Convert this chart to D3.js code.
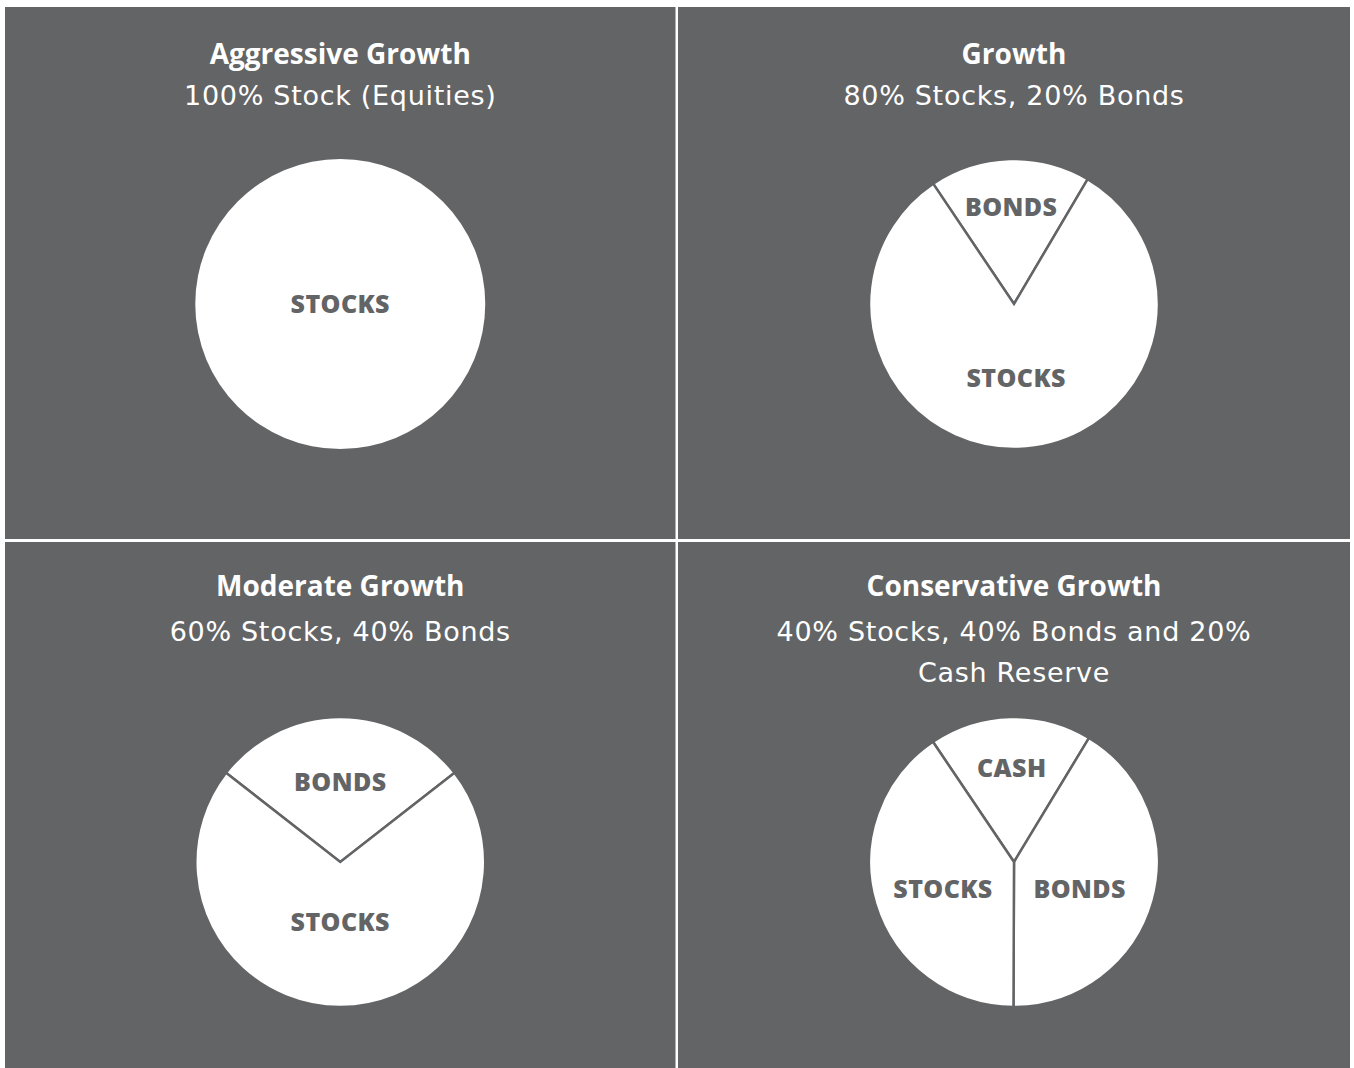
<!DOCTYPE html>
<html>
<head>
<meta charset="utf-8">
<script src="https://cdn.jsdelivr.net/npm/d3@7"></script>
<style>
  html, body { margin: 0; padding: 0; background: #ffffff; }
  svg { display: block; }
</style>
</head>
<body>
<div id="chart"></div>
<script>
// titles and subtitles of the four portfolios
const titles = ["Aggressive Growth", "Growth", "Moderate Growth", "Conservative Growth"];
const subtitles = [
  ["100% Stock (Equities)"],
  ["80% Stocks, 20% Bonds"],
  ["60% Stocks, 40% Bonds"],
  ["40% Stocks, 40% Bonds and 20%", "Cash Reserve"]
];

// slices as drawn in the picture (share of the circle, %), clockwise from the first one
const aggressiveLabels = ["STOCKS"];
const aggressiveShares = [100];
const growthLabels = ["BONDS", "STOCKS"];
const growthShares = [17.9, 82.1];
const moderateLabels = ["BONDS", "STOCKS"];
const moderateShares = [28.9, 71.1];
const conservativeLabels = ["CASH", "BONDS", "STOCKS"];
const conservativeShares = [18.1, 41.4, 40.5];

const W = 1354, H = 1068;
const bg = "#636466";

// panel boxes
const panels = [
  { x: 5, y: 7, w: 670.5, h: 532, titleY: 57, subY: 98, pieY: 297 },
  { x: 678, y: 7, w: 672, h: 532, titleY: 57, subY: 98, pieY: 297 },
  { x: 5, y: 542, w: 670.5, h: 526, titleY: 54, subY: 99, pieY: 320 },
  { x: 678, y: 542, w: 672, h: 526, titleY: 54, subY: 99, pieY: 320 }
];

// rotation of first slice (degrees), label radius and angle nudge (degrees) per slice
const startDeg = [0, -33.9, -52, -34];
const labelR = [[0], [97, 74], [80, 60], [94, 71, 76]];
const labelNudge = [[0], [0, 0], [0, 0], [0, 6.5, -4]];

const pieLabels = [aggressiveLabels, growthLabels, moderateLabels, conservativeLabels];
const pieShares = [aggressiveShares, growthShares, moderateShares, conservativeShares];

const svg = d3.select("#chart")
  .append("svg")
  .attr("width", W)
  .attr("height", H);

const radius = 145;
const arc = d3.arc().innerRadius(0).outerRadius(radius);

panels.forEach(function (p, i) {
  const g = svg.append("g").attr("transform", `translate(${p.x}, ${p.y})`);
  g.append("rect")
    .attr("width", p.w)
    .attr("height", p.h)
    .attr("fill", bg);

  const cx = p.w / 2;

  g.append("text")
    .attr("x", cx)
    .attr("y", p.titleY)
    .attr("text-anchor", "middle")
    .attr("fill", "#ffffff")
    .style("font-family", "'Open Sans', sans-serif")
    .style("font-weight", "700")
    .style("font-size", "28px")
    .text(titles[i]);

  subtitles[i].forEach(function (s, j) {
    g.append("text")
      .attr("x", cx)
      .attr("y", p.subY + j * 41)
      .attr("text-anchor", "middle")
      .attr("fill", "#ffffff")
      .style("font-family", "'DejaVu Sans', sans-serif")
      .style("font-size", "27px")
      .style("letter-spacing", "0.7px")
      .text(s);
  });

  const data = pieShares[i].map(function (v, k) { return { label: pieLabels[i][k], value: v }; });
  const start = startDeg[i] * Math.PI / 180;
  const pie = d3.pie()
    .sort(null)
    .value(function (d) { return d.value; })
    .startAngle(start)
    .endAngle(start + 2 * Math.PI);

  const slices = pie(data);
  const pg = g.append("g").attr("transform", `translate(${cx}, ${p.pieY})`);

  pg.selectAll("path")
    .data(slices)
    .join("path")
    .attr("d", arc)
    .attr("fill", "#ffffff")
    .attr("stroke", slices.length > 1 ? bg : "none")
    .attr("stroke-width", 2.5)
    .attr("stroke-linejoin", "miter");

  pg.selectAll("text")
    .data(slices)
    .join("text")
    .attr("transform", function (d, k) {
      const r = labelR[i][k];
      const a = (d.startAngle + d.endAngle) / 2 + labelNudge[i][k] * Math.PI / 180;
      return `translate(${Math.sin(a) * r}, ${-Math.cos(a) * r})`;
    })
    .attr("dy", "0.36em")
    .attr("text-anchor", "middle")
    .attr("fill", bg)
    .style("font-family", "'Open Sans', sans-serif")
    .style("font-weight", "800")
    .style("font-size", "25px")
    .style("letter-spacing", "0.4px")
    .text(function (d) { return d.data.label; });
});
</script>
</body>
</html>
